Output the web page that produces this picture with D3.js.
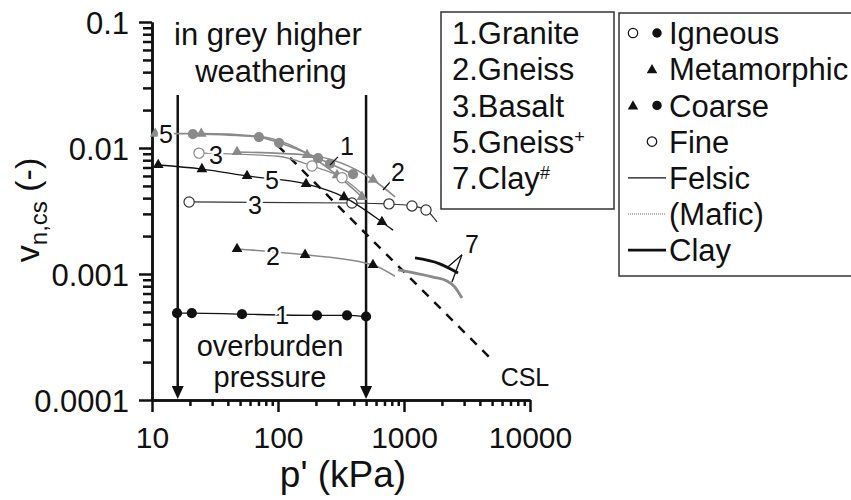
<!DOCTYPE html>
<html>
<head>
<meta charset="utf-8">
<script src="https://d3js.org/d3.v7.min.js"></script>
<style>
body { margin: 0; background: #fff; }
text { font-family: "Liberation Sans", Arial, sans-serif; fill: #111; }
.axis path, .axis line { stroke: #111; stroke-width: 2.5; }
.num { font-size: 25px; text-anchor: middle; stroke: #fff; stroke-width: 5px; paint-order: stroke; }
</style>
</head>
<body>
<script>
var width = 851, height = 500;

// [p' kPa, v_n,cs, marker drawn]
var granite      = [[15.8,0.00049,1],[20.7,0.00049,1],[51.8,0.00048,1],[204,0.00047,1],[353,0.00047,1],[500,0.00046,1]];
var gneiss       = [[47.3,0.00158,1],[164,0.00142,1],[567,0.00118,1],[849,0.00096,0]];
var basalt       = [[19.7,0.00373,1],[386,0.00366,1],[760,0.0036,1],[1157,0.00347,1],[1495,0.00322,1],[1828,0.00259,0]];
var gneissPlus   = [[11.2,0.00733,1],[24.9,0.00681,1],[56.8,0.0060,1],[167,0.00518,1],[334,0.00408,1],[668,0.00259,1],[818,0.00223,0]];
var graniteW     = [[21.1,0.0129,1],[70.6,0.0122,1],[102,0.0110,1],[208,0.0083,1],[259,0.0075,1],[394,0.0062,1]];
var gneissW      = [[47.3,0.0093,1],[170,0.0088,1],[567,0.0056,1],[849,0.0041,0]];
var basaltW      = [[23.6,0.0091,1],[100,0.0086,0],[186,0.0072,1],[322,0.0058,1],[470,0.0043,0]];
var gneissPlusW  = [[10.6,0.0130,1],[24.6,0.0130,1],[70,0.0124,0],[150,0.0097,0],[294,0.0061,1],[464,0.0041,1]];
var clayFresh    = [[1222,0.00134],[1900,0.00121],[2685,0.00102]];
var clayW        = [[896,0.00108],[1700,0.000946],[2193,0.000879],[2500,0.00080],[2884,0.000645]];
var csl          = [[100,0.0104],[5000,0.000208]];
var overburden   = [16, 500];

var xTicks = [10, 100, 1000, 10000];
var xTickLabels = ["10", "100", "1000", "10000"];
var yTicks = [0.0001, 0.001, 0.01, 0.1];
var yTickLabels = ["0.0001", "0.001", "0.01", "0.1"];

// number labels [text, p, v]
var numLabels = [["5",12.9,0.0129],["3",32.2,0.00879],["5",89.6,0.00557],["3",65.6,0.00353],
                 ["2",91.2,0.00139],["1",108,0.000473],["1",353,0.01038],["2",896,0.00645],["7",3467,0.00173]];
// leader lines [[p1,v1],[p2,v2]]
var leaders = [[[299,0.0085],[259,0.00733]],[[681,0.00464],[803,0.00557]],
               [[2884,0.00142],[2193,0.00112]],[[2884,0.00142],[2404,0.000865]]];

var legendRocks = ["1.Granite","2.Gneiss","3.Basalt","5.Gneiss","7.Clay"];
var legendSup = ["","","","+","#"];
var legendKeys = ["Igneous","Metamorphic","Coarse","Fine","Felsic","(Mafic)","Clay"];

var grey = "#8a8a8a";

var svg = d3.select("body").append("svg")
    .attr("width", width)
    .attr("height", height);

var x = d3.scaleLog().domain([10, 10000]).range([152, 530]);
var y = d3.scaleLog().domain([0.0001, 0.1]).range([400, 22]);

var line = d3.line().x(function(d){ return x(d[0]); }).y(function(d){ return y(d[1]); });
var smooth = d3.line().x(function(d){ return x(d[0]); }).y(function(d){ return y(d[1]); }).curve(d3.curveMonotoneX);

// axes
var xMinor = x.ticks().filter(function(t){ return xTicks.indexOf(t) < 0; });
var yMinor = y.ticks().filter(function(t){ return yTicks.map(function(v){return +v.toPrecision(3);}).indexOf(+t.toPrecision(3)) < 0; });

svg.append("g").attr("class", "axis").attr("transform", "translate(0,400)")
  .call(d3.axisBottom(x).tickValues(xMinor).tickSize(6).tickSizeOuter(0).tickFormat(""));
var gx = svg.append("g").attr("class", "axis").attr("transform", "translate(0,400)")
  .call(d3.axisBottom(x).tickValues(xTicks).tickSize(12).tickSizeOuter(0)
        .tickFormat(function(d, i){ return xTickLabels[i]; }));
gx.selectAll("text").attr("y", 48).attr("dy", 0).style("font-size", "30px").style("fill", "#111");

svg.append("g").attr("class", "axis").attr("transform", "translate(152,0)")
  .call(d3.axisLeft(y).tickValues(yMinor).tickSize(9).tickSizeOuter(0).tickFormat(""));
var gy = svg.append("g").attr("class", "axis").attr("transform", "translate(152,0)")
  .call(d3.axisLeft(y).tickValues(yTicks).tickSize(13).tickSizeOuter(0)
        .tickFormat(function(d, i){ return yTickLabels[i]; }));
gy.selectAll("text").attr("x", -23).attr("dy", "0.36em").style("font-size", "31px").style("fill", "#111");

// axis titles
svg.append("text").attr("x", 343).attr("y", 487).attr("text-anchor", "middle")
  .style("font-size", "37px").text("p' (kPa)");
var yt = svg.append("text").attr("transform", "translate(39,210) rotate(-90)")
  .attr("text-anchor", "middle").style("font-size", "34px");
yt.append("tspan").text("v");
yt.append("tspan").attr("dy", 8).style("font-size", "24px").text("n,cs");
yt.append("tspan").attr("dy", -8).text(" (-)");

// CSL
svg.append("path").datum(csl).attr("d", line)
  .attr("fill", "none").attr("stroke", "#111").attr("stroke-width", 2.5).attr("stroke-dasharray", "9,8");
svg.append("text").attr("x", x(9120)).attr("y", y(0.000152)).attr("dy", "0.36em")
  .attr("text-anchor", "middle").style("font-size", "25px").text("CSL");

// overburden pressure lines
overburden.forEach(function(p){
  var px = x(p);
  svg.append("line").attr("x1", px).attr("x2", px).attr("y1", y(0.0264)).attr("y2", y(0.0001) - 10)
    .attr("stroke", "#111").attr("stroke-width", 2.5);
  svg.append("path")
    .attr("d", "M" + (px - 6) + "," + (y(0.0001) - 14) + "L" + (px + 6) + "," + (y(0.0001) - 14) + "L" + px + "," + (y(0.0001) - 1) + "Z")
    .attr("fill", "#111");
});

svg.append("text").attr("x", 268).attr("y", 45).attr("text-anchor", "middle").style("font-size", "31px").text("in grey higher");
svg.append("text").attr("x", 271).attr("y", 82).attr("text-anchor", "middle").style("font-size", "31px").text("weathering");
svg.append("text").attr("x", 270).attr("y", 356).attr("text-anchor", "middle").style("font-size", "29px").text("overburden");
svg.append("text").attr("x", 270).attr("y", 387).attr("text-anchor", "middle").style("font-size", "29px").text("pressure");

// series
var series = [
  {pts: gneissPlusW, color: grey, lw: 1.6, marker: "tri", fill: grey},
  {pts: graniteW, color: grey, lw: 1.6, marker: "circle", fill: grey},
  {pts: basaltW, color: grey, lw: 1.3, marker: "circle", fill: "#fff"},
  {pts: gneissW, color: grey, lw: 1.6, marker: "tri", fill: grey},
  {pts: gneiss, color: grey, lw: 1.6, marker: "tri", fill: "#111"},
  {pts: basalt, color: "#333", lw: 1.2, marker: "circle", fill: "#fff"},
  {pts: gneissPlus, color: "#111", lw: 1.3, marker: "tri", fill: "#111"},
  {pts: granite, color: "#111", lw: 1.3, marker: "circle", fill: "#111"}
];

series.forEach(function(s){
  svg.append("path").datum(s.pts).attr("d", smooth)
    .attr("fill", "none").attr("stroke", s.color).attr("stroke-width", s.lw);
  var sym = d3.symbol().type(s.marker === "tri" ? d3.symbolTriangle : d3.symbolCircle)
    .size(s.marker === "tri" ? 50 : 82);
  svg.selectAll(null).data(s.pts.filter(function(d){ return d[2]; })).enter().append("path")
    .attr("d", sym)
    .attr("transform", function(d){ return "translate(" + x(d[0]) + "," + y(d[1]) + ")"; })
    .attr("fill", s.fill)
    .attr("stroke", s.fill === "#fff" ? s.color : "none")
    .attr("stroke-width", 1.2);
});

svg.append("path").datum(clayW).attr("d", smooth)
  .attr("fill", "none").attr("stroke", grey).attr("stroke-width", 2.8);
svg.append("path").datum(clayFresh).attr("d", smooth)
  .attr("fill", "none").attr("stroke", "#111").attr("stroke-width", 2.8);

// leaders and number labels
svg.selectAll(null).data(leaders).enter().append("line")
  .attr("x1", function(d){ return x(d[0][0]); }).attr("y1", function(d){ return y(d[0][1]); })
  .attr("x2", function(d){ return x(d[1][0]); }).attr("y2", function(d){ return y(d[1][1]); })
  .attr("stroke", "#111").attr("stroke-width", 1.3);

svg.selectAll(null).data(numLabels).enter().append("text")
  .attr("class", "num")
  .attr("x", function(d){ return x(d[1]); })
  .attr("y", function(d){ return y(d[2]); })
  .attr("dy", "0.36em")
  .text(function(d){ return d[0]; });

// legend 1
svg.append("rect").attr("x", 441).attr("y", 12).attr("width", 173).attr("height", 197)
  .attr("fill", "#fff").attr("stroke", "#333").attr("stroke-width", 1.5);
legendRocks.forEach(function(t, i){
  var tx = svg.append("text").attr("x", 452).attr("y", 33 + i * 36.2).attr("dy", "0.36em").style("font-size", "31px");
  tx.append("tspan").text(t);
  if (legendSup[i]) tx.append("tspan").attr("dy", -10).style("font-size", "18px").text(legendSup[i]);
});

// legend 2
svg.append("rect").attr("x", 619).attr("y", 13).attr("width", 260).attr("height", 263)
  .attr("fill", "#fff").attr("stroke", "#333").attr("stroke-width", 1.5);
legendKeys.forEach(function(t, i){
  svg.append("text").attr("x", 669).attr("y", 33 + i * 36.2).attr("dy", "0.36em").style("font-size", "31px").text(t);
});
var ly = function(i){ return 33 + i * 36.2; };
var circ = d3.symbol().type(d3.symbolCircle).size(70);
var tri = d3.symbol().type(d3.symbolTriangle).size(48);
function mark(sym, cx, cy, fill){
  svg.append("path").attr("d", sym).attr("transform", "translate(" + cx + "," + cy + ")")
    .attr("fill", fill).attr("stroke", "#111").attr("stroke-width", fill === "#fff" ? 1.2 : 0);
}
mark(circ, 633, ly(0), "#fff");
mark(circ, 657, ly(0), "#111");
mark(tri, 652, ly(1) + 1, "#111");
mark(tri, 633, ly(2) + 1, "#111");
mark(circ, 657, ly(2), "#111");
mark(circ, 652, ly(3), "#fff");
svg.append("line").attr("x1", 628).attr("x2", 666).attr("y1", ly(4)).attr("y2", ly(4)).attr("stroke", "#111").attr("stroke-width", 1.2);
svg.append("line").attr("x1", 628).attr("x2", 666).attr("y1", ly(5)).attr("y2", ly(5)).attr("stroke", "#666").attr("stroke-width", 1).attr("stroke-dasharray", "1,1");
svg.append("line").attr("x1", 628).attr("x2", 666).attr("y1", ly(6)).attr("y2", ly(6)).attr("stroke", "#111").attr("stroke-width", 2.8);
</script>
</body>
</html>
